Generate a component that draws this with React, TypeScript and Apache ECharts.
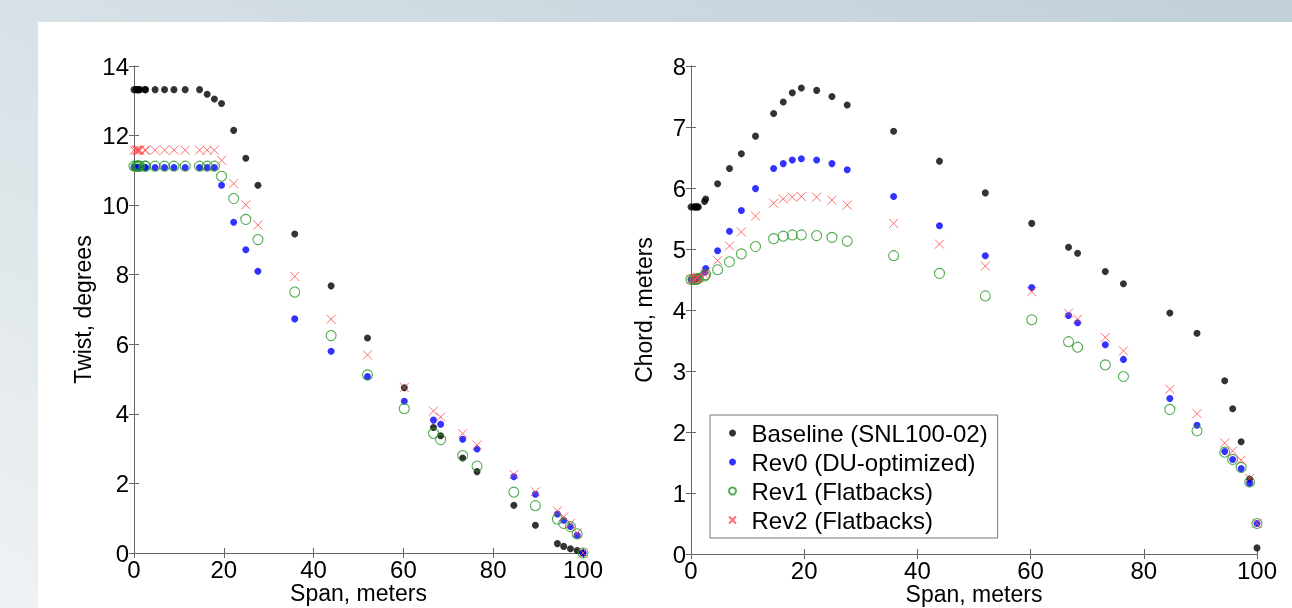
import React, { useEffect, useRef } from "react";
import * as echarts from "echarts";

const span = [0, 0.5, 0.7, 0.9, 1.1, 1.3, 2.4, 2.6, 4.7, 6.8, 8.9, 11.4, 14.6, 16.3, 17.9, 19.5, 22.2, 24.9, 27.6, 35.8, 43.9, 52.0, 60.2, 66.7, 68.3, 73.2, 76.4, 84.6, 89.4, 94.3, 95.7, 97.2, 98.7, 100];

const twistBaseline = [13.32, 13.32, 13.32, 13.32, 13.32, 13.32, 13.32, 13.32, 13.32, 13.32, 13.32, 13.32, 13.32, 13.19, 13.05, 12.92, 12.15, 11.35, 10.57, 9.17, 7.68, 6.18, 4.75, 3.61, 3.37, 2.73, 2.34, 1.37, 0.80, 0.27, 0.19, 0.12, 0.07, 0];
const twistRev0 = [11.08, 11.08, 11.08, 11.08, 11.08, 11.08, 11.08, 11.08, 11.08, 11.08, 11.08, 11.08, 11.08, 11.08, 11.08, 10.57, 9.51, 8.72, 8.10, 6.73, 5.80, 5.07, 4.36, 3.82, 3.70, 3.27, 2.99, 2.19, 1.69, 1.12, 0.94, 0.76, 0.51, 0];
const twistRev1 = [11.12, 11.12, 11.12, 11.12, 11.12, 11.12, 11.12, 11.12, 11.12, 11.12, 11.12, 11.12, 11.12, 11.12, 11.12, 10.83, 10.19, 9.59, 9.01, 7.50, 6.25, 5.12, 4.15, 3.44, 3.26, 2.80, 2.50, 1.75, 1.36, 0.97, 0.85, 0.76, 0.55, 0];
const twistRev2 = [11.58, 11.58, 11.58, 11.58, 11.58, 11.58, 11.58, 11.58, 11.58, 11.58, 11.58, 11.58, 11.58, 11.58, 11.58, 11.29, 10.62, 10.01, 9.43, 7.95, 6.72, 5.69, 4.76, 4.08, 3.91, 3.43, 3.10, 2.26, 1.76, 1.21, 1.04, 0.85, 0.58, 0];

const chordBaseline = [5.69, 5.69, 5.69, 5.69, 5.69, 5.69, 5.78, 5.82, 6.07, 6.32, 6.56, 6.85, 7.22, 7.41, 7.56, 7.64, 7.60, 7.50, 7.36, 6.93, 6.44, 5.92, 5.42, 5.03, 4.93, 4.63, 4.43, 3.95, 3.62, 2.84, 2.38, 1.84, 1.23, 0.10];
const chordRev0 = [4.50, 4.50, 4.51, 4.52, 4.53, 4.54, 4.62, 4.68, 4.97, 5.29, 5.63, 5.99, 6.32, 6.40, 6.46, 6.48, 6.46, 6.40, 6.30, 5.86, 5.38, 4.89, 4.37, 3.91, 3.79, 3.43, 3.19, 2.55, 2.11, 1.68, 1.55, 1.40, 1.16, 0.50];
const chordRev1 = [4.50, 4.50, 4.50, 4.50, 4.51, 4.52, 4.56, 4.58, 4.66, 4.79, 4.92, 5.04, 5.17, 5.21, 5.23, 5.23, 5.22, 5.19, 5.13, 4.89, 4.60, 4.23, 3.84, 3.48, 3.39, 3.10, 2.91, 2.37, 2.02, 1.67, 1.55, 1.42, 1.18, 0.50];
const chordRev2 = [4.50, 4.50, 4.51, 4.52, 4.53, 4.54, 4.58, 4.62, 4.81, 5.05, 5.28, 5.54, 5.75, 5.82, 5.85, 5.86, 5.85, 5.80, 5.72, 5.42, 5.08, 4.72, 4.30, 3.95, 3.85, 3.55, 3.33, 2.70, 2.30, 1.82, 1.69, 1.54, 1.24, 0.50];

const seriesNames = ["Baseline (SNL100-02)", "Rev0 (DU-optimized)", "Rev1 (Flatbacks)", "Rev2 (Flatbacks)"];
const xTicks = { min: 0, max: 100, interval: 20 };
const twistTicks = { min: 0, max: 14, interval: 2 };
const chordTicks = { min: 0, max: 8, interval: 1 };

const FONT = "Liberation Sans, Arial, sans-serif";
const AXIS_COLOR = "#666";
const CROSS = "path://M0,0L10,10M10,0L0,10";

const styles = [
  { symbol: "circle", symbolSize: 7, itemStyle: { color: "#000000" } },
  { symbol: "circle", symbolSize: 7, itemStyle: { color: "#0000ff" } },
  { symbol: "circle", symbolSize: 10, itemStyle: { color: "rgba(0,0,0,0)", borderColor: "#2a962a", borderWidth: 1.1 } },
  { symbol: CROSS, symbolSize: 9, itemStyle: { color: "rgba(0,0,0,0)", borderColor: "#ff4a4a", borderWidth: 1 } },
];

function pairs(ys: number[]) {
  return span.map((x, i) => [x, ys[i]]);
}

function mainAxis(gridIndex: number, ticks: any, position: string, name: string, nameGap: number, isX: boolean) {
  return {
    type: "value",
    gridIndex,
    position,
    min: ticks.min,
    max: ticks.max,
    interval: ticks.interval,
    name,
    nameLocation: "middle",
    nameGap,
    nameMoveOverlap: false,
    nameTextStyle: { fontFamily: FONT, fontSize: 23, color: "#000", lineHeight: 22 },
    axisLine: { show: true, lineStyle: { color: AXIS_COLOR, width: 1 } },
    axisTick: { show: true, inside: true, length: 5, lineStyle: { color: AXIS_COLOR } },
    axisLabel: { show: true, fontFamily: FONT, fontSize: 24, lineHeight: 20, color: "#000", margin: isX ? 6 : 5 },
    splitLine: { show: false },
  };
}

function mirrorAxis(gridIndex: number, ticks: any, position: string) {
  return {
    type: "value",
    gridIndex,
    position,
    min: ticks.min,
    max: ticks.max,
    interval: ticks.interval,
    axisLine: { show: true, lineStyle: { color: AXIS_COLOR, width: 1 } },
    axisTick: { show: true, inside: true, length: 5, lineStyle: { color: AXIS_COLOR } },
    axisLabel: { show: false },
    splitLine: { show: false },
  };
}

export default function App() {
  const ref = useRef<HTMLDivElement>(null);
  useEffect(() => {
    if (!ref.current) return;
    const chart = echarts.init(ref.current, undefined, { renderer: "svg" });
    const twistSets = [twistBaseline, twistRev0, twistRev1, twistRev2];
    const chordSets = [chordBaseline, chordRev0, chordRev1, chordRev2];
    const series: any[] = [];
    twistSets.forEach((d, i) => {
      series.push({ type: "scatter", name: seriesNames[i], xAxisIndex: 0, yAxisIndex: 0, data: pairs(d), ...styles[i], z: 2 + i });
    });
    chordSets.forEach((d, i) => {
      series.push({ type: "scatter", name: seriesNames[i], xAxisIndex: 2, yAxisIndex: 2, data: pairs(d), ...styles[i], z: 2 + i });
    });
    chart.setOption({
      animation: false,
      textStyle: { fontFamily: FONT },
      graphic: [
        {
          type: "rect",
          z: -20,
          silent: true,
          shape: { x: 0, y: 0, width: 1292, height: 608 },
          style: {
            fill: new echarts.graphic.LinearGradient(0, 1, 1, 0, [
              { offset: 0, color: "#eef2f4" },
              { offset: 1, color: "#c0cfd8" },
            ]),
          },
        },
        {
          type: "rect",
          z: -19,
          silent: true,
          shape: { x: 38, y: 22, width: 1254, height: 586 },
          style: { fill: "#ffffff" },
        },
      ],
      grid: [
        { left: 134, top: 66, width: 449, height: 487, outerBoundsMode: "none", containLabel: false },
        { left: 691, top: 66, width: 566, height: 488, outerBoundsMode: "none", containLabel: false },
      ],
      xAxis: [
        mainAxis(0, xTicks, "bottom", "Span, meters", 29, true),
        mirrorAxis(0, xTicks, "top"),
        mainAxis(1, xTicks, "bottom", "Span, meters", 29, true),
        mirrorAxis(1, xTicks, "top"),
      ],
      yAxis: [
        mainAxis(0, twistTicks, "left", "Twist, degrees", 40, false),
        mirrorAxis(0, twistTicks, "right"),
        mainAxis(1, chordTicks, "left", "Chord, meters", 36, false),
        mirrorAxis(1, chordTicks, "right"),
      ],
      legend: {
        show: true,
        orient: "vertical",
        left: 710,
        top: 415,
        padding: [6, 10, 6, 18],
        itemWidth: 28,
        itemHeight: 7,
        itemGap: 5,
        backgroundColor: "#ffffff",
        borderColor: "#777",
        borderWidth: 1,
        borderRadius: 0,
        selectedMode: false,
        textStyle: { fontFamily: FONT, fontSize: 24, color: "#000" },
        data: seriesNames,
      },
      series,
    });
    return () => chart.dispose();
  }, []);
  return <div ref={ref} style={{ position: "fixed", left: 0, top: 0, width: 1292, height: 608 }} />;
}
